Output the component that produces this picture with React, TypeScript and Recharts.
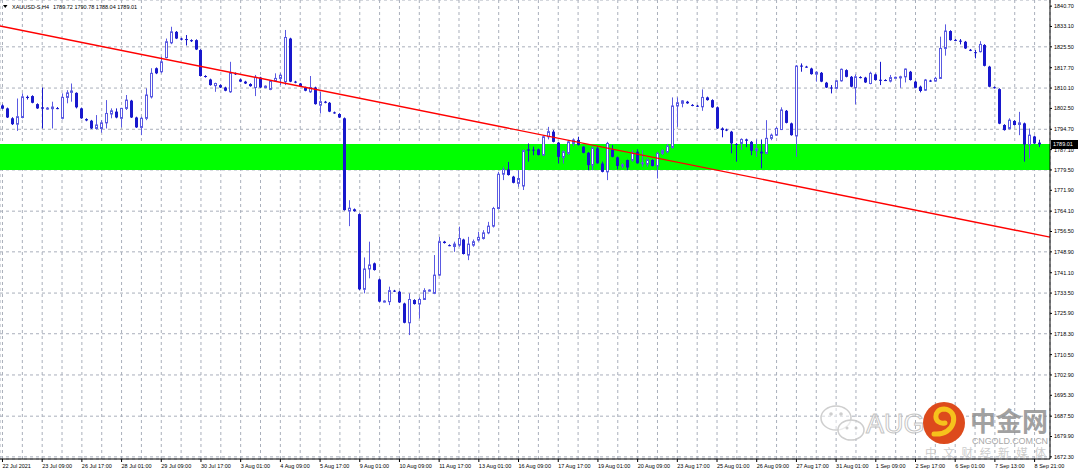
import React from 'react'
import { ComposedChart, Bar, XAxis, YAxis, CartesianGrid, ReferenceArea, ReferenceLine } from 'recharts'

// XAUUSD H4 bars
const opens = [
  1803.6, 1802.5, 1798.8, 1796.6, 1799.1, 1806.8, 1807.1, 1804.1, 1802.9, 1802.4,
  1802.4, 1802.6, 1798.8, 1806.6, 1808.5, 1808.3, 1802.5, 1798.5, 1797.9, 1795.0,
  1795.0, 1797.1, 1800.4, 1801.3, 1798.8, 1802.5, 1805.4, 1799.1, 1795.4, 1798.8,
  1806.8, 1817.5, 1816.2, 1821.5, 1827.0, 1831.1, 1828.6, 1828.4, 1828.0, 1828.0,
  1824.3, 1814.6, 1813.3, 1811.0, 1811.2, 1810.3, 1808.7, 1815.6, 1813.3, 1812.5,
  1811.6, 1810.3, 1814.0, 1810.3, 1809.6, 1812.8, 1813.7, 1812.5, 1828.6, 1812.5,
  1811.8, 1810.3, 1808.7, 1810.3, 1803.7, 1805.0, 1804.6, 1801.0, 1800.4, 1798.8,
  1764.2, 1764.8, 1763.0, 1734.9, 1742.5, 1744.6, 1738.6, 1730.3, 1730.3, 1734.4,
  1734.0, 1729.6, 1722.4, 1730.9, 1729.4, 1731.1, 1734.4, 1733.4, 1740.2, 1752.7,
  1751.4, 1750.9, 1751.4, 1753.5, 1747.7, 1751.4, 1753.3, 1753.9, 1756.0, 1758.5,
  1765.1, 1777.9, 1779.7, 1777.0, 1774.5, 1773.5, 1787.2, 1787.1, 1787.2, 1785.1,
  1791.9, 1793.8, 1789.7, 1784.2, 1785.7, 1789.4, 1790.7, 1788.2, 1785.9, 1781.3,
  1787.6, 1781.9, 1778.8, 1787.2, 1784.2, 1781.0, 1783.2, 1783.2, 1786.3, 1782.0,
  1781.7, 1783.2, 1781.0, 1785.7, 1786.3, 1787.9, 1803.4, 1804.4, 1805.0, 1803.8,
  1803.5, 1803.1, 1806.6, 1805.6, 1802.9, 1795.0, 1794.6, 1793.8, 1789.2, 1789.4,
  1790.9, 1790.0, 1786.7, 1786.3, 1785.7, 1791.3, 1792.5, 1794.6, 1801.6, 1796.9,
  1792.2, 1818.5, 1818.1, 1817.4, 1815.3, 1815.8, 1812.1, 1810.3, 1810.0, 1812.8,
  1816.8, 1814.3, 1810.2, 1814.2, 1814.0, 1811.8, 1815.2, 1813.2, 1813.1, 1812.7,
  1814.0, 1813.9, 1814.3, 1816.2, 1812.5, 1810.6, 1809.3, 1812.9, 1812.7, 1813.7,
  1824.9, 1831.4, 1828.1, 1827.8, 1827.4, 1824.4, 1823.5, 1823.7, 1826.2, 1818.1,
  1810.4, 1809.7, 1796.3, 1795.0, 1797.8, 1796.5, 1796.9, 1789.0, 1792.0, 1789.72,
]

const highs = [
  1804.0, 1802.8, 1799.2, 1806.2, 1808.1, 1807.3, 1807.4, 1804.4, 1810.3, 1803.0,
  1805.0, 1803.0, 1808.1, 1809.3, 1811.8, 1808.5, 1802.8, 1798.8, 1798.2, 1800.0,
  1798.1, 1805.6, 1802.5, 1802.5, 1802.7, 1807.5, 1805.7, 1799.4, 1799.4, 1810.0,
  1817.5, 1817.8, 1821.8, 1828.6, 1833.0, 1831.4, 1828.9, 1829.9, 1828.3, 1828.3,
  1824.6, 1814.9, 1813.6, 1812.1, 1811.5, 1810.6, 1819.9, 1815.9, 1813.6, 1812.8,
  1811.9, 1815.0, 1814.3, 1811.1, 1813.1, 1815.6, 1815.6, 1831.8, 1828.9, 1812.8,
  1812.0, 1810.6, 1814.6, 1810.6, 1808.7, 1805.3, 1804.9, 1801.3, 1800.7, 1799.1,
  1768.2, 1765.1, 1763.3, 1746.8, 1752.7, 1744.9, 1738.9, 1730.8, 1735.9, 1734.7,
  1734.3, 1729.9, 1733.4, 1731.2, 1731.9, 1735.3, 1734.9, 1747.7, 1754.5, 1753.0,
  1751.7, 1752.7, 1758.3, 1753.8, 1754.5, 1753.5, 1756.4, 1757.0, 1760.1, 1765.7,
  1778.8, 1780.7, 1782.5, 1777.3, 1779.4, 1787.2, 1789.4, 1788.2, 1787.5, 1792.5,
  1795.6, 1794.4, 1790.0, 1786.8, 1790.7, 1791.3, 1791.9, 1788.4, 1786.2, 1788.2,
  1788.4, 1782.6, 1790.0, 1788.8, 1784.5, 1782.0, 1783.4, 1786.9, 1787.2, 1786.9,
  1783.8, 1783.5, 1786.3, 1787.2, 1789.2, 1806.6, 1806.6, 1805.6, 1805.3, 1804.1,
  1803.8, 1809.6, 1806.9, 1805.9, 1803.2, 1795.4, 1794.9, 1794.1, 1789.5, 1791.3,
  1791.2, 1790.3, 1790.9, 1790.9, 1798.1, 1793.1, 1795.6, 1802.9, 1801.9, 1797.2,
  1818.7, 1819.3, 1818.4, 1817.7, 1816.4, 1816.1, 1812.4, 1811.2, 1813.1, 1817.4,
  1817.1, 1814.6, 1815.2, 1814.5, 1814.3, 1816.2, 1815.5, 1819.9, 1813.4, 1815.0,
  1814.4, 1814.7, 1817.4, 1816.5, 1812.8, 1811.0, 1813.5, 1813.2, 1814.3, 1829.3,
  1833.9, 1831.7, 1828.4, 1828.4, 1827.7, 1824.7, 1824.3, 1827.6, 1826.5, 1818.4,
  1810.7, 1810.0, 1796.6, 1798.8, 1798.1, 1801.2, 1797.2, 1795.0, 1792.3, 1790.78,
]

const lows = [
  1802.2, 1798.9, 1796.3, 1794.1, 1798.8, 1805.8, 1804.4, 1802.3, 1795.0, 1802.0,
  1795.0, 1802.2, 1798.4, 1804.4, 1805.0, 1802.5, 1798.6, 1797.7, 1794.8, 1794.6,
  1793.4, 1795.0, 1798.8, 1798.8, 1795.4, 1801.9, 1798.9, 1795.2, 1792.5, 1798.1,
  1806.2, 1815.3, 1815.6, 1821.2, 1826.5, 1828.4, 1827.9, 1826.0, 1827.3, 1824.3,
  1814.4, 1814.0, 1811.0, 1808.7, 1810.1, 1808.9, 1808.3, 1815.0, 1812.3, 1811.6,
  1810.6, 1807.1, 1810.1, 1810.0, 1809.3, 1812.5, 1811.2, 1811.2, 1812.3, 1811.9,
  1810.5, 1808.9, 1808.3, 1803.9, 1800.6, 1804.4, 1801.1, 1800.5, 1798.9, 1764.3,
  1758.5, 1763.9, 1734.6, 1733.4, 1739.0, 1741.9, 1730.1, 1730.0, 1729.0, 1733.9,
  1729.8, 1722.2, 1717.8, 1729.2, 1724.0, 1730.9, 1734.1, 1733.1, 1739.9, 1752.0,
  1751.0, 1748.9, 1750.8, 1747.9, 1745.8, 1750.8, 1752.7, 1753.5, 1755.5, 1758.0,
  1764.7, 1775.7, 1777.4, 1774.5, 1773.2, 1772.0, 1782.6, 1785.0, 1784.9, 1784.7,
  1790.9, 1789.8, 1781.9, 1781.9, 1785.1, 1788.4, 1788.6, 1785.7, 1779.4, 1779.4,
  1781.8, 1778.6, 1775.7, 1784.2, 1779.7, 1780.1, 1779.4, 1782.6, 1781.8, 1780.7,
  1780.7, 1780.8, 1776.3, 1785.1, 1785.7, 1787.5, 1795.6, 1802.9, 1804.2, 1803.3,
  1803.0, 1801.6, 1805.4, 1802.7, 1794.8, 1791.7, 1794.0, 1785.7, 1782.6, 1787.0,
  1788.0, 1785.0, 1784.4, 1780.1, 1785.4, 1790.6, 1792.2, 1794.4, 1796.9, 1792.3,
  1784.4, 1816.2, 1817.7, 1815.1, 1812.5, 1812.3, 1810.1, 1808.1, 1809.6, 1812.5,
  1814.1, 1810.4, 1804.0, 1813.7, 1812.0, 1811.5, 1812.9, 1811.2, 1812.7, 1812.2,
  1813.7, 1810.2, 1812.2, 1812.9, 1810.0, 1808.5, 1809.0, 1812.4, 1812.5, 1813.5,
  1822.2, 1827.8, 1827.6, 1826.4, 1824.7, 1823.9, 1821.2, 1823.4, 1818.2, 1810.4,
  1809.9, 1796.6, 1794.2, 1794.6, 1796.1, 1792.5, 1782.6, 1783.8, 1789.2, 1788.04,
]

const closes = [
  1802.4, 1799.1, 1796.6, 1799.4, 1806.8, 1806.4, 1804.6, 1802.5, 1802.4, 1802.6,
  1803.0, 1802.5, 1806.6, 1808.3, 1809.0, 1802.9, 1798.8, 1798.0, 1795.0, 1796.3,
  1797.1, 1800.6, 1801.6, 1799.1, 1802.5, 1805.6, 1799.1, 1795.4, 1798.8, 1807.5,
  1815.6, 1815.6, 1819.9, 1827.4, 1831.1, 1828.6, 1828.2, 1828.1, 1827.6, 1824.5,
  1814.6, 1814.3, 1811.2, 1811.8, 1810.3, 1809.1, 1815.8, 1815.3, 1812.5, 1811.8,
  1810.8, 1814.1, 1810.3, 1810.8, 1812.8, 1813.7, 1814.9, 1829.0, 1812.5, 1812.2,
  1810.8, 1809.1, 1810.3, 1804.1, 1805.0, 1804.6, 1801.3, 1800.7, 1799.1, 1764.5,
  1765.2, 1764.1, 1734.9, 1742.5, 1744.0, 1742.1, 1730.3, 1730.5, 1734.4, 1734.2,
  1730.0, 1722.4, 1731.1, 1729.4, 1731.1, 1734.4, 1734.6, 1740.2, 1752.7, 1752.2,
  1751.2, 1751.8, 1753.9, 1748.1, 1751.8, 1752.7, 1754.3, 1756.0, 1758.5, 1765.1,
  1777.9, 1779.7, 1777.6, 1774.7, 1776.3, 1786.7, 1786.7, 1786.9, 1785.1, 1791.9,
  1793.8, 1790.0, 1784.4, 1786.3, 1790.0, 1790.7, 1788.8, 1785.9, 1781.3, 1787.6,
  1782.0, 1778.8, 1789.4, 1784.4, 1781.0, 1781.4, 1780.4, 1785.9, 1782.0, 1782.2,
  1783.2, 1781.0, 1785.7, 1786.7, 1788.4, 1803.4, 1804.6, 1805.3, 1804.4, 1803.6,
  1803.2, 1806.6, 1805.6, 1802.9, 1795.0, 1794.4, 1794.3, 1789.4, 1789.0, 1790.9,
  1790.4, 1786.7, 1787.4, 1785.7, 1791.3, 1792.5, 1795.0, 1801.9, 1797.1, 1792.5,
  1818.3, 1818.1, 1818.0, 1815.3, 1816.0, 1812.5, 1810.3, 1810.1, 1812.8, 1817.1,
  1814.3, 1810.6, 1814.3, 1814.0, 1812.2, 1815.6, 1813.1, 1813.0, 1813.0, 1814.0,
  1814.1, 1814.3, 1817.2, 1813.1, 1810.2, 1809.0, 1813.1, 1812.7, 1813.7, 1824.9,
  1831.4, 1828.0, 1827.9, 1827.5, 1824.9, 1824.2, 1823.3, 1826.4, 1818.4, 1810.6,
  1810.2, 1796.8, 1794.4, 1798.1, 1796.3, 1797.1, 1789.0, 1792.5, 1789.4, 1789.01,
]

// one label every 8 bars
const dateLabels = [
  '22 Jul 2021', '23 Jul 09:00', '26 Jul 17:00', '28 Jul 01:00', '29 Jul 09:00', '30 Jul 17:00',
  '3 Aug 01:00', '4 Aug 09:00', '5 Aug 17:00', '9 Aug 01:00', '10 Aug 09:00', '11 Aug 17:00',
  '13 Aug 01:00', '16 Aug 09:00', '17 Aug 17:00', '19 Aug 01:00', '20 Aug 09:00', '23 Aug 17:00',
  '25 Aug 01:00', '26 Aug 09:00', '27 Aug 17:00', '31 Aug 01:00', '1 Sep 09:00', '2 Sep 17:00',
  '6 Sep 01:00', '7 Sep 13:00', '8 Sep 21:00',
]

const priceTicks = [
  1840.7, 1833.1, 1825.5, 1817.7, 1810.1, 1802.5, 1794.7, 1787.1, 1779.5, 1771.9, 1764.1, 1756.5,
  1748.9, 1741.1, 1733.5, 1725.9, 1718.3, 1710.5, 1702.9, 1695.3, 1687.5, 1679.9, 1672.3,
]

const zoneLow = 1779.5
const zoneHigh = 1789.2
const trendFrom = 1833.3
const trendTo = 1754.4
const lastPrice = 1789.01

const BULL = '#5a5ae2'
const BEAR = '#1818cc'
const GRID = '#a9afbb'
const FONT = "'Liberation Sans', Arial, sans-serif"

const data: any[] = opens.map((o, i) => ({
  i,
  open: o,
  high: highs[i],
  low: lows[i],
  close: closes[i],
  range: [lows[i], highs[i]],
}))
data.push({ i: opens.length, range: null })
const lastSlot = opens.length

const gridTicks: number[] = []
for (let k = 0; k < opens.length; k += 4) gridTicks.push(k)

function Candle(props: any) {
  const { x, y, width, height, payload } = props
  if (!payload || payload.open == null || !height) return null
  const { open, close, high, low } = payload
  const k = height / (high - low)
  const cx = Math.floor(x + width / 2) + 0.5
  const top = y + (high - Math.max(open, close)) * k
  const bot = y + (high - Math.min(open, close)) * k
  const up = close >= open
  const bh = Math.max(1, bot - top)
  return (
    <g>
      <line x1={cx} x2={cx} y1={y} y2={y + height} stroke={up ? BULL : BEAR} strokeWidth={1} />
      {up ? (
        <rect x={cx - 1} y={top} width={2} height={Math.max(0.5, bh)} fill="#fff" stroke={BULL} strokeWidth={1} />
      ) : (
        <rect x={cx - 1.5} y={top} width={3} height={bh} fill={BEAR} />
      )}
    </g>
  )
}

function DateTick({ x, y, payload }: any) {
  const idx = payload.value
  if (idx % 8 !== 0) return null
  const label = dateLabels[idx / 8]
  if (!label) return null
  return (
    <g>
      <line x1={x} x2={x} y1={y} y2={y + 3} stroke="#000" />
      <text x={x} y={y + 9} fontSize={5.5} fill="#000" fontFamily={FONT} textAnchor="start">
        {label}
      </text>
    </g>
  )
}

function PriceTag({ viewBox }: any) {
  if (!viewBox) return null
  const right = viewBox.x + viewBox.width
  return (
    <g>
      <rect x={right + 1} y={viewBox.y - 4.5} width={27} height={9} fill="#000" />
      <text x={right + 3} y={viewBox.y + 2} fontSize={5.5} fill="#fff" fontFamily={FONT}>
        {lastPrice.toFixed(2)}
      </text>
    </g>
  )
}

function Watermark() {
  return (
    <svg width={1080} height={473} style={{ position: 'absolute', left: 0, top: 0, pointerEvents: 'none' }}>
      <path d="M3 5 L7.5 5 L5.25 8 Z" fill="#000" />
      <text x={12} y={9} fontSize={5.5} fontFamily={FONT} fill="#000">XAUUSD-S,H4</text>
      <text x={53} y={9} fontSize={5.5} fontFamily={FONT} fill="#000">1789.72 1790.78 1788.04 1789.01</text>

      <g opacity={0.85}>
        <ellipse cx={836} cy={418} rx={15} ry={12} fill="rgba(255,255,255,0.6)" stroke="#c6c6c6" strokeWidth={1.5} />
        <ellipse cx={851} cy={430} rx={13} ry={10} fill="rgba(255,255,255,0.6)" stroke="#c6c6c6" strokeWidth={1.5} />
        <circle cx={831} cy={414} r={1.8} fill="#c6c6c6" />
        <circle cx={841} cy={414} r={1.8} fill="#c6c6c6" />
        <circle cx={847} cy={428} r={1.5} fill="#c6c6c6" />
        <circle cx={856} cy={428} r={1.5} fill="#c6c6c6" />
        <text x={866} y={433} fontSize={27} fontFamily={FONT} fill="rgba(255,255,255,0.5)" stroke="#bcbcbc" strokeWidth={1}>
          AUG
        </text>
      </g>
      <circle cx={944} cy={423} r={21} fill="#dd4a1c" />
      <path d="M934 434 C956 436, 960 410, 944 409 C933 409, 933 425, 945 423" stroke="#f6c21c" strokeWidth={5} fill="none" strokeLinecap="round" />
      <text x={970} y={431} fontSize={26} fontWeight="bold" fontFamily="'Noto Sans CJK SC', sans-serif" fill="#8a8a8a" opacity={0.8}>
        中金网
      </text>
      <text x={972} y={444} fontSize={9} fontFamily={FONT} fill="#a8a8a8" textLength={76} lengthAdjust="spacing">
        CNGOLD.COM.CN
      </text>
      <text x={925} y={457} fontSize={11.5} fontFamily="'Noto Sans CJK SC', sans-serif" fill="#cccccc" textLength={121} lengthAdjust="spacing">
        中文财经新媒体
      </text>
    </svg>
  )
}

export default function App() {
  return (
    <div style={{ position: 'absolute', left: 0, top: 0, width: 1080, height: 473, background: '#fff' }}>
      <ComposedChart width={1080} height={473} data={data} margin={{ top: 0, right: 0, bottom: 0, left: 0 }}>
        <CartesianGrid stroke={GRID} strokeDasharray="3 3" />
        <XAxis
          dataKey="i"
          ticks={gridTicks}
          interval={0}
          height={14}
          padding={{ left: 0, right: 3 }}
          tickSize={0}
          tickMargin={0}
          tickLine={false}
          axisLine={{ stroke: '#000' }}
          tick={<DateTick />}
        />
        <XAxis xAxisId="t" dataKey="i" type="number" domain={[0, lastSlot]} allowDataOverflow hide />
        <YAxis
          orientation="right"
          domain={[1671.5, 1843]}
          ticks={priceTicks}
          allowDataOverflow
          width={30}
          tickSize={2}
          tickMargin={2}
          axisLine={{ stroke: '#000' }}
          tickLine={{ stroke: '#000' }}
          tick={{ fontSize: 5.5, fill: '#000', fontFamily: FONT }}
          tickFormatter={(v: number) => v.toFixed(2)}
        />
        <ReferenceArea xAxisId="t" y1={zoneLow} y2={zoneHigh} fill="#00ff00" fillOpacity={1} stroke="none" />
        <Bar dataKey="range" barSize={3} shape={(p: any) => <Candle {...p} />} isAnimationActive={false} />
        <ReferenceLine
          xAxisId="t"
          segment={[{ x: 0, y: trendFrom }, { x: lastSlot, y: trendTo }]}
          stroke="#ff0000"
          strokeWidth={1.4}
        />
        <ReferenceLine xAxisId="t" y={lastPrice} stroke="#000" strokeOpacity={0} label={<PriceTag />} />
      </ComposedChart>
      <Watermark />
    </div>
  )
}
